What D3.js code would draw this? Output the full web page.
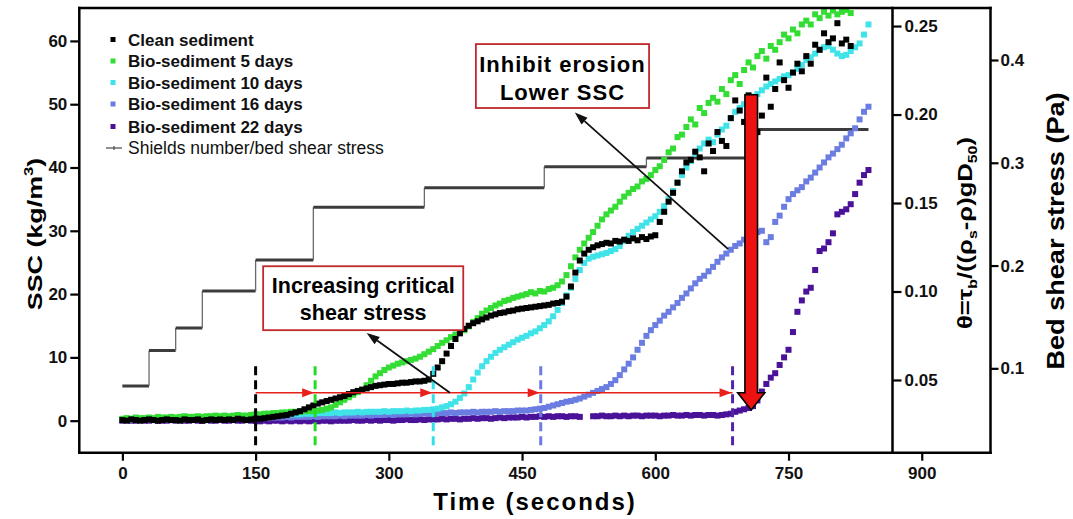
<!DOCTYPE html>
<html><head><meta charset="utf-8">
<script src="https://cdn.jsdelivr.net/npm/d3@7"></script>
<style>
body{margin:0;background:#fff}
svg{display:block}
text{font-family:"Liberation Sans",Arial,Helvetica,sans-serif}
</style>
</head><body>
<svg id="c" width="1073" height="519"></svg>
<script>
// ---------- data ----------
const times = d3.range(0, 845, 5); // sampling instants (s)

const cleanSSC = [
0.1,0.0,0.2,0.1,0.0,0.1,0.2,0.1,0.0,0.1,
0.2,0.1,0.1,0.0,0.2,0.1,0.1,0.2,0.0,0.1,
0.2,0.1,0.2,0.1,0.2,0.1,0.3,0.2,0.1,0.2,
0.3,0.3,0.4,0.5,0.6,0.7,0.8,0.9,1.1,1.3,
1.5,1.8,2.1,2.4,2.7,2.9,3.1,3.3,3.5,3.7,
3.9,4.2,4.5,4.7,4.9,5.1,5.3,5.5,5.6,5.7,
5.8,5.8,5.9,6.0,6.0,6.1,6.2,6.2,6.3,6.5,
7.4,8.4,9.4,10.6,11.8,12.9,13.8,14.5,15.0,15.4,
15.7,16.0,16.3,16.6,16.8,17.0,17.1,17.3,17.4,17.6,
17.7,17.8,17.9,18.0,18.1,18.2,18.3,18.5,18.6,18.8,
19.6,21.2,23.4,25.3,26.4,27.0,27.4,27.7,27.9,28.1,
28.0,28.4,28.3,28.6,28.4,28.8,28.5,29.0,28.7,29.1,
29.3,31.4,33.0,34.6,36.0,37.6,39.4,40.8,41.2,42.5,
41.6,39.4,43.8,42.6,45.6,44.2,43.4,47.8,50.6,49.0,
47.2,51.4,49.8,45.6,48.2,54.2,49.6,52.4,56.6,53.8,
52.6,55.0,56.4,55.2,57.6,56.4,59.4,58.6,61.2,59.8,
60.4,62.8,59.6,60.2,59.2,null,null,null,null];

const bio5SSC = [
0.3,0.4,0.3,0.5,0.4,0.4,0.5,0.4,0.6,0.5,
0.5,0.6,0.5,0.6,0.7,0.6,0.6,0.7,0.6,0.7,
0.7,0.8,0.7,0.8,0.7,0.8,0.9,0.8,0.8,0.9,
1.0,1.0,1.1,1.1,1.2,1.2,1.3,1.3,1.4,1.4,
1.4,1.5,1.5,1.5,1.6,1.7,1.9,2.1,2.5,2.9,
3.3,3.7,4.1,4.5,4.9,5.6,6.3,7.0,7.5,8.0,
8.4,8.7,9.0,9.2,9.4,9.6,9.8,10.1,10.5,10.9,
11.3,11.8,12.3,12.7,13.2,13.6,13.9,14.3,14.9,15.6,
16.2,16.9,17.4,17.8,18.2,18.5,18.9,19.1,19.4,19.6,
19.8,20.0,20.3,20.1,20.5,20.4,20.8,21.0,21.4,22.0,
23.0,24.4,25.8,27.0,28.0,28.9,29.8,30.8,31.8,32.6,
33.2,33.8,34.6,35.4,36.0,36.6,37.0,37.8,38.2,38.8,
39.6,40.2,41.2,42.4,43.0,44.8,45.2,46.4,47.6,46.8,
49.4,48.6,50.2,51.0,50.4,52.4,51.6,53.8,54.6,53.2,
55.4,56.6,55.8,57.6,58.4,57.2,59.2,58.6,59.8,61.0,
60.4,61.8,61.2,62.6,63.2,62.6,64.2,63.6,64.6,64.0,
64.8,64.2,64.6,64.9,64.4,null,null,null,null];

const bio10SSC = [
0.2,0.3,0.2,0.3,0.2,0.3,0.3,0.2,0.3,0.3,
0.3,0.4,0.3,0.4,0.3,0.4,0.4,0.3,0.4,0.4,
0.4,0.5,0.4,0.5,0.5,0.4,0.5,0.5,0.6,0.5,
0.6,0.6,0.7,0.7,0.8,0.8,0.9,0.9,1.0,1.0,
1.0,1.1,1.1,1.1,1.2,1.2,1.2,1.2,1.3,1.2,
1.3,1.3,1.3,1.4,1.3,1.4,1.4,1.4,1.4,1.5,
1.4,1.5,1.5,1.5,1.6,1.5,1.6,1.6,1.7,1.7,
1.8,1.9,2.1,2.3,2.6,3.0,3.6,4.3,5.3,6.5,
7.6,8.6,9.4,10.1,10.7,11.2,11.6,12.0,12.4,12.8,
13.1,13.4,13.8,14.1,14.6,15.1,15.7,16.5,17.5,18.6,
19.8,21.0,22.4,23.8,24.9,25.6,25.9,26.1,26.3,26.5,
26.8,27.1,27.6,28.4,29.2,29.8,30.3,30.8,31.3,31.8,
32.3,33.0,33.9,35.0,36.3,37.6,38.8,40.0,41.0,42.2,
43.0,43.8,44.4,44.0,45.2,46.0,46.6,47.8,48.8,49.4,
50.0,50.6,51.2,51.6,52.2,52.8,53.2,53.6,54.0,54.4,
54.6,55.0,55.6,56.2,57.0,57.4,58.0,58.6,59.0,59.2,
58.6,58.0,57.6,57.8,58.4,59.0,59.6,61.0,62.6];

const bio16SSC = [
0.1,0.2,0.1,0.2,0.1,0.2,0.2,0.1,0.2,0.2,
0.2,0.2,0.3,0.2,0.2,0.3,0.2,0.3,0.3,0.2,
0.3,0.3,0.3,0.4,0.3,0.4,0.4,0.3,0.4,0.4,
0.4,0.4,0.5,0.4,0.5,0.5,0.5,0.6,0.5,0.6,
0.6,0.6,0.6,0.7,0.6,0.7,0.7,0.7,0.7,0.8,
0.7,0.8,0.8,0.8,0.8,0.9,0.8,0.9,0.9,0.9,
1.0,0.9,1.0,1.0,1.0,1.1,1.0,1.1,1.1,1.2,
1.1,1.2,1.2,1.2,1.3,1.2,1.3,1.3,1.3,1.4,
1.3,1.4,1.4,1.4,1.5,1.4,1.5,1.5,1.5,1.6,
1.6,1.6,1.7,1.8,1.9,2.0,2.2,2.4,2.6,2.8,
3.0,3.1,3.3,3.5,3.8,4.1,4.4,4.7,5.0,5.3,
5.8,6.4,7.2,8.1,9.0,10.0,11.2,12.3,13.4,14.3,
15.1,15.8,16.6,17.2,17.9,18.6,19.4,20.1,20.9,21.7,
22.4,22.9,23.6,24.3,25.1,25.8,26.4,27.0,27.6,28.0,
28.6,29.2,28.4,29.8,30.0,28.2,29.0,31.4,32.4,33.8,
35.0,35.8,36.4,36.9,37.8,38.4,39.2,40.0,40.8,41.6,
42.2,42.9,43.6,44.6,45.4,46.2,47.6,48.8,49.6];

const bio22SSC = [
0.0,0.1,0.0,0.0,0.1,0.0,0.0,0.1,0.0,0.0,
0.0,0.1,0.0,0.1,0.0,0.0,0.1,0.0,0.0,0.1,
0.0,0.0,0.1,0.0,0.0,0.1,0.0,0.0,0.1,0.0,
0.0,-0.1,0.0,-0.1,0.0,0.0,-0.1,0.0,-0.1,0.0,
-0.1,0.0,-0.1,0.0,-0.1,0.0,0.0,-0.1,0.0,0.0,
0.0,0.0,0.1,0.0,0.0,0.1,0.0,0.1,0.0,0.1,
0.1,0.0,0.1,0.1,0.2,0.1,0.1,0.2,0.1,0.2,
0.2,0.2,0.3,0.2,0.3,0.3,0.2,0.3,0.3,0.4,
0.3,0.4,0.4,0.3,0.4,0.5,0.4,0.5,0.5,0.5,
0.6,0.5,0.6,0.6,0.7,0.6,0.7,0.6,0.7,0.7,
0.6,0.7,0.7,0.6,null,null,0.7,0.7,0.8,0.7,
0.7,0.8,0.7,0.8,0.7,0.8,0.8,0.7,0.8,0.8,
0.8,0.7,0.8,0.8,0.9,0.8,0.8,0.9,0.8,0.9,
0.9,0.8,0.9,0.9,0.8,0.9,1.0,1.1,1.4,1.6,
1.8,2.0,2.3,3.2,4.6,5.8,6.8,7.5,8.8,10.0,
11.2,14.0,17.2,19.0,20.4,21.0,23.8,26.8,27.2,28.2,
29.6,32.6,33.0,33.4,34.2,35.8,37.6,38.8,39.6];

const seriesNames = ["Clean sediment","Bio-sediment 5 days","Bio-sediment 10 days","Bio-sediment 16 days","Bio-sediment 22 days"];
const seriesColors = ["#000000","#33dd33","#3fe3e8","#6b7de0","#4a1199"];
const seriesValues = [cleanSSC, bio5SSC, bio10SSC, bio16SSC, bio22SSC];
const drawOrder = [4,3,2,1,0];

// Shields number step line
const stepTimes   = [0,30,60,90,150,215,340,475,590,705,840];
const stepShields = [0.0466,0.0666,0.0794,0.1003,0.1178,0.1476,0.1586,0.1705,0.1754,0.1916];

// onset of erosion for each series (s)
const onsetTimes = [150,217,350,471,687];
const onsetColors = ["#000000","#22dd22","#33e0ea","#6b7be2","#5522aa"];

const xTicks = [0,150,300,450,600,750,900];
const yTicks = [0,10,20,30,40,50,60];
const shieldsTicks = [0.05,0.10,0.15,0.20,0.25];
const bedTicks = [0.1,0.2,0.3,0.4];

// ---------- layout ----------
const L = 79.3, R1 = 892.5, R2 = 990.5, T = 8, B = 452.7;
const x  = d3.scaleLinear().domain([-48.5, 977.4]).range([L, R2]);
const y  = d3.scaleLinear().domain([-5.06, 65.2]).range([B, T]);
const yS = d3.scaleLinear().domain([0.0089, 0.2602]).range([B, T]);
const yB = d3.scaleLinear().domain([0.0179, 0.4506]).range([B, T]);

const svg = d3.select("#c");
svg.append("rect").attr("width",1073).attr("height",519).attr("fill","#fff");
svg.append("defs").append("clipPath").attr("id","plotclip")
  .append("rect").attr("x",L).attr("y",T).attr("width",R1-L).attr("height",B-T);

const plot = svg.append("g").attr("clip-path","url(#plotclip)");

// step line (Shields)
const stepG = plot.append("g");
stepShields.forEach((v,i)=>{
  stepG.append("line").attr("x1",x(stepTimes[i])).attr("x2",x(stepTimes[i+1]))
    .attr("y1",yS(v)).attr("y2",yS(v)).attr("stroke","#3c3c3c").attr("stroke-width",3);
  if(i<stepShields.length-1){
    stepG.append("line").attr("x1",x(stepTimes[i+1])).attr("x2",x(stepTimes[i+1]))
      .attr("y1",yS(v)).attr("y2",yS(stepShields[i+1])).attr("stroke","#6a6a6a").attr("stroke-width",1.3);
  }
});

// scatter series
const ms = 6;
drawOrder.forEach(si=>{
  const pts = times.map((t,i)=>({t, v: seriesValues[si][i]})).filter(d=>d.v!==null && d.v!==undefined);
  plot.append("g").selectAll("rect").data(pts).join("rect")
    .attr("x",d=>x(d.t)-ms/2).attr("y",d=>y(d.v)-ms/2)
    .attr("width",ms).attr("height",ms).attr("fill",seriesColors[si]);
});

// onset dashed lines
onsetTimes.forEach((t,i)=>{
  plot.append("line").attr("x1",x(t)).attr("x2",x(t)).attr("y1",y(8.6)).attr("y2",y(-4.4))
    .attr("stroke",onsetColors[i]).attr("stroke-width",3).attr("stroke-dasharray","9,5");
});

// red arrow line with heads
const redY = y(4.42);
plot.append("line").attr("x1",x(onsetTimes[0])).attr("x2",x(onsetTimes[4])).attr("y1",redY).attr("y2",redY)
  .attr("stroke","#e8201c").attr("stroke-width",1.6);
onsetTimes.slice(1).forEach(t=>{
  const tx = x(t)-1;
  plot.append("path").attr("d",`M${tx},${redY} L${tx-12},${redY-4.5} L${tx-12},${redY+4.5} Z`).attr("fill","#e8201c");
});

// black annotation arrows
function arrow(t0,v0,t1,v1){
  const x0=x(t0),y0=y(v0),x1=x(t1),y1=y(v1);
  const a=Math.atan2(y1-y0,x1-x0), len=13, hw=4.5;
  const bx=x1-len*Math.cos(a), by=y1-len*Math.sin(a);
  svg.append("line").attr("x1",x0).attr("y1",y0).attr("x2",bx).attr("y2",by).attr("stroke","#111").attr("stroke-width",1.8);
  svg.append("path").attr("d",`M${x1},${y1} L${bx+hw*Math.sin(a)},${by-hw*Math.cos(a)} L${bx-hw*Math.sin(a)},${by+hw*Math.cos(a)} Z`).attr("fill","#111");
}
arrow(368.8,4.4,275,13.85);
arrow(682,27.1,509.4,48.7);

// annotation boxes
function box(t0,t1,v0,v1,lines,fs,ls,dy){
  const bx=x(t0), bw=x(t1)-x(t0), by=y(v1), bh=y(v0)-y(v1);
  svg.append("rect").attr("x",bx).attr("y",by).attr("width",bw).attr("height",bh)
    .attr("fill","#fff").attr("stroke","#c0282c").attr("stroke-width",1.8);
  lines.forEach((s,i)=>{
    svg.append("text").attr("x",bx+bw/2).attr("y",by+dy[i]).attr("text-anchor","middle")
      .attr("font-size",fs).attr("font-weight","bold").attr("letter-spacing",ls).text(s);
  });
}
box(158.5,383.8,14.3,24.4,["Increasing critical","shear stress"],21.5,0,[27,54]);
box(398,593,49.4,59.5,["Inhibit erosion","Lower SSC"],22,1.0,[28,56]);

// big red arrow
{
  const cx=x(708), yt=y(51.5), yh=y(4.4), yp=y(1.7), bw=6.3, hw=13.5;
  svg.append("path").attr("d",`M${cx-bw},${yt} L${cx+bw},${yt} L${cx+bw},${yh} L${cx+hw},${yh} L${cx},${yp} L${cx-hw},${yh} L${cx-bw},${yh} Z`)
    .attr("fill","#ee1111").attr("stroke","#000").attr("stroke-width",1.6).attr("stroke-linejoin","miter");
}

// ---------- axes ----------
function styleAxis(g){
  g.select(".domain").remove();
  g.selectAll(".tick line").attr("stroke","#000").attr("stroke-width",2.2);
  g.selectAll(".tick text").attr("fill","#111").attr("font-size",17).attr("font-weight","bold")
    .attr("font-family",'"Liberation Sans",Arial,sans-serif');
}
svg.append("g").attr("transform",`translate(${L},0)`)
  .call(d3.axisLeft(y).tickValues(yTicks).tickSize(9).tickPadding(3).tickFormat(d3.format("d"))).call(styleAxis);
svg.append("g").attr("transform",`translate(0,${B})`)
  .call(d3.axisBottom(x).tickValues(xTicks).tickSize(8).tickPadding(6).tickFormat(d3.format("d"))).call(styleAxis);
svg.append("g").attr("transform",`translate(${R1},0)`)
  .call(d3.axisRight(yS).tickValues(shieldsTicks).tickSize(9).tickPadding(3).tickFormat(d3.format(".2f"))).call(styleAxis);
svg.append("g").attr("transform",`translate(${R2},0)`)
  .call(d3.axisRight(yB).tickValues(bedTicks).tickSize(8).tickPadding(2).tickFormat(d3.format(".1f"))).call(styleAxis);

// frame
const fr = svg.append("g").attr("stroke","#000").attr("stroke-width",2.5).attr("stroke-linecap","square");
fr.append("line").attr("x1",L).attr("x2",R2).attr("y1",T).attr("y2",T);
fr.append("line").attr("x1",L).attr("x2",R2).attr("y1",B).attr("y2",B);
fr.append("line").attr("x1",L).attr("x2",L).attr("y1",T).attr("y2",B);
fr.append("line").attr("x1",R1).attr("x2",R1).attr("y1",T).attr("y2",B);
fr.append("line").attr("x1",R2).attr("x2",R2).attr("y1",T).attr("y2",B);

// axis titles
svg.append("text").attr("x",535).attr("y",510).attr("text-anchor","middle")
  .attr("font-size",24).attr("font-weight","bold").attr("letter-spacing",2).text("Time (seconds)");
{
  const t = svg.append("text").attr("transform","translate(42,234) rotate(-90) scale(1.28,1)").attr("text-anchor","middle")
    .attr("font-size",21).attr("font-weight","bold");
  t.append("tspan").text("SSC (kg/m");
  t.append("tspan").attr("font-size",13).attr("dy",-9).text("3");
  t.append("tspan").attr("dy",9).text(")");
}
{
  const t = svg.append("text").attr("transform","translate(972,233) rotate(-90) scale(1.22,1)").attr("text-anchor","middle")
    .attr("font-size",21).attr("font-weight","bold");
  t.append("tspan").text("θ=τ");
  t.append("tspan").attr("font-size",13).attr("dy",5).text("b");
  t.append("tspan").attr("dy",-5).text("/((ρ");
  t.append("tspan").attr("font-size",13).attr("dy",5).text("s");
  t.append("tspan").attr("dy",-5).text("-ρ)gD");
  t.append("tspan").attr("font-size",13).attr("dy",5).text("50");
  t.append("tspan").attr("dy",-5).text(")");
}
svg.append("text").attr("transform","translate(1064,231) rotate(-90) scale(1.13,1)").attr("text-anchor","middle")
  .attr("font-size",24).attr("font-weight","bold").text("Bed shear stress (Pa)");

// ---------- legend ----------
const legRows = [39.5,61,82.5,104,126.5,148];
seriesNames.forEach((n,i)=>{
  svg.append("rect").attr("x",110.5).attr("y",legRows[i]-2.5).attr("width",5).attr("height",5).attr("fill",seriesColors[i]);
  svg.append("text").attr("x",128).attr("y",legRows[i]+6).attr("font-size",17).attr("font-weight","bold").attr("fill","#111").text(n);
});
svg.append("line").attr("x1",106).attr("x2",122).attr("y1",legRows[5]).attr("y2",legRows[5]).attr("stroke","#555").attr("stroke-width",1.3);
svg.append("line").attr("x1",114).attr("x2",114).attr("y1",legRows[5]-2).attr("y2",legRows[5]+2).attr("stroke","#555").attr("stroke-width",1.3);
svg.append("text").attr("x",128).attr("y",legRows[5]+6).attr("font-size",17.5).attr("fill","#111").text("Shields number/bed shear stress");
</script>
</body></html>
